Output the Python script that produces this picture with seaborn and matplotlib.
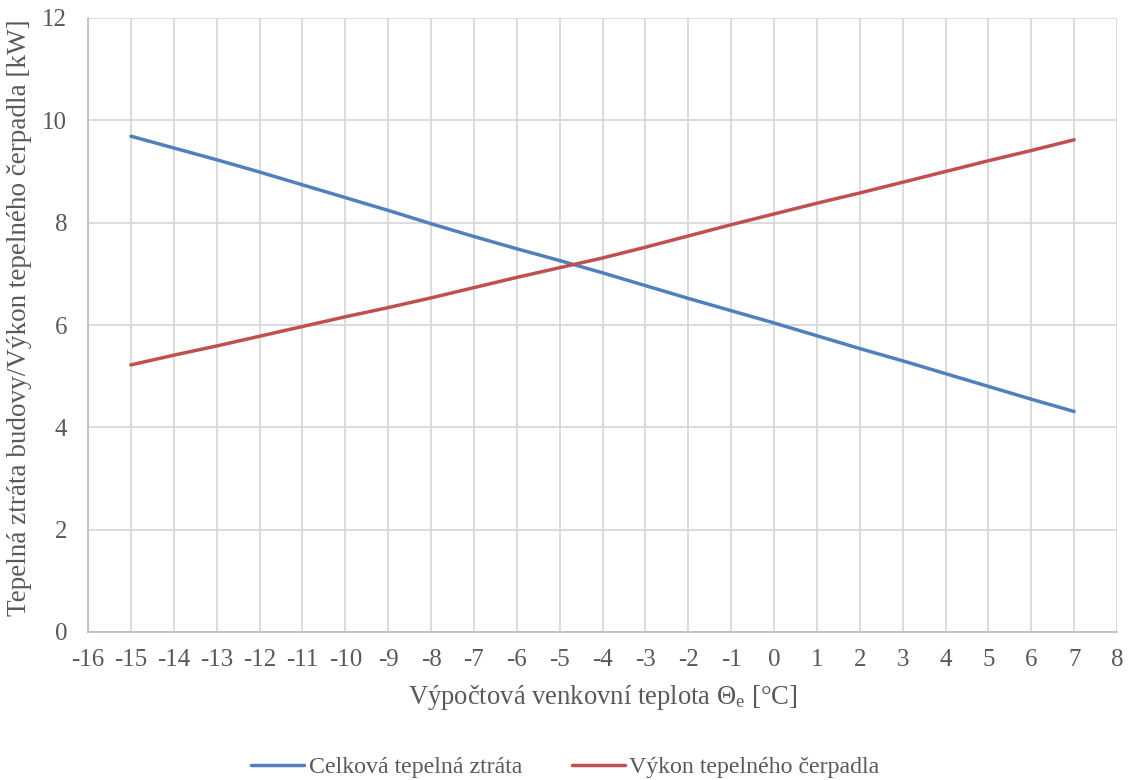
import numpy as np
import pandas as pd
import matplotlib
matplotlib.use("Agg")
import matplotlib.pyplot as plt
import seaborn as sns

teplota = [-15, -14, -13, -12, -11, -10, -9, -8, -7, -6, -5, -4, -3, -2, -1, 0, 1, 2, 3, 4, 5, 6, 7]
ztrata = [9.69, 9.46, 9.23, 8.99, 8.74, 8.49, 8.24, 7.98, 7.73, 7.49, 7.26, 7.02, 6.77, 6.52,
          6.28, 6.04, 5.79, 5.54, 5.30, 5.05, 4.80, 4.55, 4.31]
vykon = [5.22, 5.41, 5.59, 5.78, 5.97, 6.16, 6.34, 6.53, 6.73, 6.93, 7.12, 7.31, 7.52, 7.74,
         7.96, 8.17, 8.38, 8.58, 8.79, 9.00, 9.21, 9.41, 9.62]
serie_names = ["Celková tepelná ztráta", "Výkon tepelného čerpadla"]
barvy = ["#4F81BD", "#C0504D"]
x_ticks = list(range(-16, 9))
y_ticks = [0, 2, 4, 6, 8, 10, 12]

df = pd.DataFrame({
    "x": teplota * 2,
    "y": ztrata + vykon,
    "serie": [serie_names[0]] * len(teplota) + [serie_names[1]] * len(teplota),
})

sns.set_theme(style="white")
plt.rcParams["font.family"] = ["Liberation Serif", "DejaVu Serif"]
plt.rcParams["mathtext.fontset"] = "custom"
plt.rcParams["mathtext.rm"] = "Liberation Serif"
plt.rcParams["mathtext.it"] = "Liberation Serif"

txt = "#595959"
W, H = 1131, 780
fig = plt.figure(figsize=(11.31, 7.8), dpi=100)
ax = fig.add_axes([88 / W, 1 - 632 / H, (1117 - 88) / W, (632 - 18) / H])

sns.lineplot(data=df, x="x", y="y", hue="serie", palette=barvy, linewidth=2.5,
             ax=ax, legend=True, sort=False)

ax.set_xlim(-16, 8)
ax.set_ylim(0, 12)
ax.set_xticks(x_ticks)
ax.set_xticklabels([str(t) for t in x_ticks])
ax.set_yticks(y_ticks)
ax.grid(True, color="#D9D9D9", linewidth=1.3)
ax.set_axisbelow(True)
for s in ["top", "right"]:
    ax.spines[s].set_visible(False)
for s in ["left", "bottom"]:
    ax.spines[s].set_color("#BFBFBF")
    ax.spines[s].set_linewidth(1.3)
ax.tick_params(axis="both", length=0, labelsize=18, colors=txt)
ax.tick_params(axis="x", pad=12)
ax.tick_params(axis="y", pad=15)

ax.set_xlabel(r"Výpočtová venkovní teplota Θ$_{\mathrm{e}}$ [°C]", fontsize=19.2, color=txt)
ax.set_ylabel("Tepelná ztráta budovy/Výkon tepelného čerpadla [kW]", fontsize=19.5, color=txt)
ax.xaxis.set_label_coords(0.5, (632 - 697) / 614)
ax.xaxis.label.set_verticalalignment("center")
ax.yaxis.set_label_coords((20 - 88) / 1029, (632 - 318) / 614)
ax.yaxis.label.set_verticalalignment("center")
ax.yaxis.label.set_horizontalalignment("center")

handles, labels = ax.get_legend_handles_labels()
ax.legend_.remove()
fig.legend(handles, labels, loc="center", bbox_to_anchor=(0.5, 1 - 767 / H), ncol=2, frameon=False,
           fontsize=17.2, labelcolor=txt, handlelength=2.2, handletextpad=0.2, columnspacing=2.1,
           borderpad=0.0)

fig.savefig("out.png", dpi=100)
